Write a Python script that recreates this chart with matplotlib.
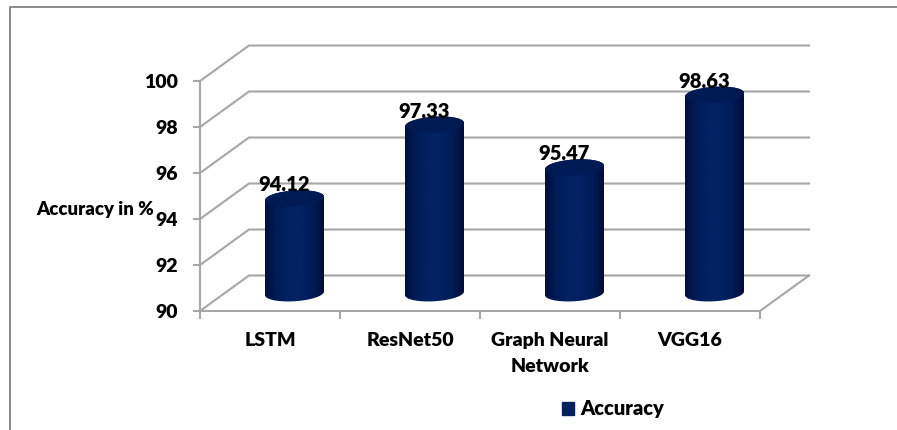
import numpy as np
import matplotlib.pyplot as plt
from matplotlib.colors import LinearSegmentedColormap
from matplotlib.lines import Line2D
from matplotlib.patches import Patch, PathPatch
from matplotlib.path import Path

categories = ["LSTM", "ResNet50", "Graph Neural\nNetwork", "VGG16"]
accuracy = [94.12, 97.33, 95.47, 98.63]
value_ticks = [90, 92, 94, 96, 98, 100]
series_name = "Accuracy"

W, H = 897, 430
GRID = "#a6a6a6"
NAVY = "#002060"
FONT = "Lato"
WEIGHT = "heavy"

plt.rcParams["font.family"] = FONT
plt.rcParams["font.weight"] = WEIGHT

fig = plt.figure(figsize=(W / 100, H / 100), dpi=100)
ax = fig.add_axes([200 / W, 1 - 311 / H, 560 / W, 230 / H])
ax.set_xlim(0, 4)
ax.set_ylim(90, 100)

# data units per pixel, used to offset things for the fake depth
px_x = 4 / 560
px_y = 10 / 230
depth_x = 49 * px_x
depth_y = 35.5 * px_y

# outer frame, only top and left show
fig.add_artist(Line2D([10 / W, 10 / W, 1], [0, 1 - 7 / H, 1 - 7 / H], color="#8a8a8a", lw=1.4))

# back wall gridlines and left wall diagonals
for v in value_ticks:
    ax.plot([0, depth_x, 4 + depth_x], [v, v + depth_y, v + depth_y],
            color=GRID, lw=1.5, clip_on=False, zorder=1, solid_joinstyle="miter")
ax.plot([4, 4 + depth_x], [90, 90 + depth_y], color=GRID, lw=1.5, clip_on=False, zorder=1)

shade = LinearSegmentedColormap.from_list(
    "cyl", ["#000e3c", "#001c58", "#022264", "#022264", "#001c58", "#000c38"])
cap_shade = LinearSegmentedColormap.from_list(
    "cap", ["#001a50", "#021c58", "#001a50"])
gradient = np.linspace(0, 1, 256).reshape(1, -1)

half_w = 29.5
half_h = 8.0
tilt = np.radians(3.5)


def ellipse(cx, cy, t):
    # tilted ellipse, sizes in pixels, result in data units
    ex = half_w * np.cos(t)
    ey = half_h * np.sin(t)
    return (cx + ex * px_x,
            cy + (ey + ex * np.sin(tilt)) * px_y)


def clip_poly(xs, ys):
    verts = np.column_stack([xs, ys])
    codes = [Path.MOVETO] + [Path.LINETO] * (len(verts) - 1)
    return PathPatch(Path(verts, codes), transform=ax.transData, fc="none", ec="none")


for i, val in enumerate(accuracy):
    cx = i + 0.5 + depth_x / 2
    base = 90 + depth_y / 2
    top = val + depth_y / 2

    # body: upper half of the top ellipse, lower half of the base ellipse
    t_up = np.linspace(0, np.pi, 60)
    t_dn = np.linspace(np.pi, 2 * np.pi, 60)
    tx, ty = ellipse(cx, top, t_up)
    bx, by = ellipse(cx, base, t_dn)
    body = clip_poly(np.r_[tx, bx], np.r_[ty, by])
    ax.add_patch(body)
    extent = [cx - half_w * px_x, cx + half_w * px_x, 90, top + 10 * px_y]
    im = ax.imshow(gradient, cmap=shade, extent=extent, aspect="auto", zorder=3)
    im.set_clip_path(body)

    # darker cap
    t_all = np.linspace(0, 2 * np.pi, 120)
    cx_pts, cy_pts = ellipse(cx, top, t_all)
    cap = clip_poly(cx_pts, cy_pts)
    ax.add_patch(cap)
    im2 = ax.imshow(gradient, cmap=cap_shade, extent=extent, aspect="auto", zorder=4)
    im2.set_clip_path(cap)

    ax.text(cx - 10 * px_x, top + 4 * px_y, f"{val:.2f}", ha="center", va="bottom",
            fontsize=14.5, fontweight=WEIGHT, color="black", zorder=5)

ax.set_xlim(0, 4)
ax.set_ylim(90, 100)

for side in ["top", "right"]:
    ax.spines[side].set_visible(False)
for side in ["left", "bottom"]:
    ax.spines[side].set_color(GRID)
    ax.spines[side].set_linewidth(1.5)

ax.set_yticks(value_ticks)
ax.tick_params(axis="y", length=5, width=1.5, color=GRID, labelsize=14, pad=11)

# separators as major ticks, names centred on minor ticks
ax.set_xticks(range(5))
ax.set_xticklabels([])
ax.set_xticks(np.arange(len(categories)) + 0.5, minor=True)
ax.set_xticklabels(categories, minor=True, fontsize=14, fontweight=WEIGHT, linespacing=1.65)
ax.tick_params(axis="x", which="minor", length=0, pad=15)
ax.tick_params(axis="x", which="major", length=6, width=1.5, color=GRID)

ax.set_ylabel("Accuracy in %", rotation=0, fontsize=13.4, fontweight=WEIGHT, ha="center", va="center")
ax.yaxis.set_label_coords((95 - 200) / 560, (311 - 209) / 230)

fig.legend(handles=[Patch(color=NAVY, label=series_name)], frameon=False,
           prop={"size": 14.5, "weight": WEIGHT},
           loc="center left", bbox_to_anchor=(544 / W, 1 - 409 / H),
           handlelength=0.6, handleheight=0.6, handletextpad=0.3)

fig.savefig("out.png", dpi=100)
